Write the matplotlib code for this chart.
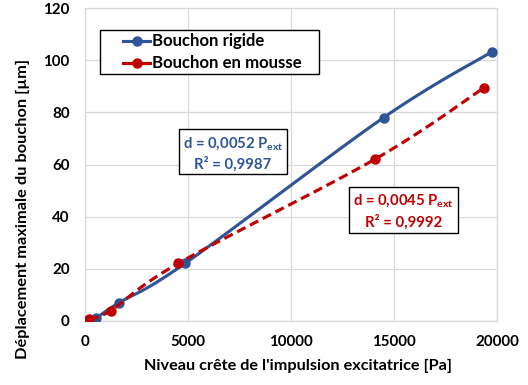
import numpy as np
import matplotlib
matplotlib.use("Agg")
import matplotlib.pyplot as plt
from matplotlib.lines import Line2D
from matplotlib.patches import Rectangle

plt.rcParams['font.family'] = ['Lato', 'DejaVu Sans']
plt.rcParams['mathtext.fontset'] = 'custom'
plt.rcParams['mathtext.rm'] = 'Lato'
plt.rcParams['mathtext.bf'] = 'Lato:bold'

# Measured peak displacement vs excitation level
rigide_x = [530, 1650, 4860, 14500, 19770]
rigide_y = [1.0, 7.0, 22.1, 78.0, 103.3]
mousse_x = [210, 1250, 4530, 14090, 19350]
mousse_y = [0.8, 4.0, 22.1, 62.1, 89.3]

series_names = ['Bouchon rigide', 'Bouchon en mousse']
fit_rigide = ["d = 0,0052 P$_{\\mathbf{ext}}$", "R² = 0,9987"]
fit_mousse = ["d = 0,0045 P$_{\\mathbf{ext}}$", "R² = 0,9992"]
x_ticks = [0, 5000, 10000, 15000, 20000]
y_ticks = [0, 20, 40, 60, 80, 100, 120]

BLUE = '#2F5597'
RED = '#C00000'
LW = 2.25
MS = 6.5
DASH = (0, (3.0, 1.6))


def smooth(xs, ys, n=30):
    """Catmull-Rom smoothing through the measured points."""
    p = np.column_stack([xs, ys]).astype(float)
    p = np.vstack([p[0], p, p[-1]])
    out = []
    for i in range(1, len(p) - 2):
        p0, p1, p2, p3 = p[i - 1], p[i], p[i + 1], p[i + 2]
        t = np.linspace(0, 1, n)[:, None]
        seg = 0.5 * ((2 * p1) + (-p0 + p2) * t
                     + (2 * p0 - 5 * p1 + 4 * p2 - p3) * t ** 2
                     + (-p0 + 3 * p1 - 3 * p2 + p3) * t ** 3)
        out.append(seg)
    s = np.vstack(out)
    return s[:, 0], s[:, 1]


W, H = 528, 385
AX_L, AX_T, AX_W, AX_H = 85, 8, 412, 313

fig = plt.figure(figsize=(W / 100, H / 100), dpi=100)
ax = fig.add_axes([AX_L / W, 1 - (AX_T + AX_H) / H, AX_W / W, AX_H / H])
renderer = fig.canvas.get_renderer()


def afrac(px, py):
    """Pixel position (from top-left of figure) -> axes fraction."""
    return (px - AX_L) / AX_W, 1 - (py - AX_T) / AX_H


def pt_for_width(text, width_px, weight='bold', probe=20.0, rotation=0):
    """Font size giving a rendered text extent of width_px pixels."""
    t = fig.text(0, 0, text, fontsize=probe, fontweight=weight,
                 rotation=rotation)
    bb = t.get_window_extent(renderer)
    t.remove()
    w = bb.height if rotation else bb.width
    return probe * width_px / w


bx, by = smooth(rigide_x, rigide_y)
mx, my = smooth(mousse_x, mousse_y)
ax.plot(bx, by, color=BLUE, lw=LW, zorder=3, solid_capstyle='round')
ax.plot(rigide_x, rigide_y, 'o', color=BLUE, ms=MS, zorder=4)
ax.plot(mx, my, color=RED, lw=LW, ls=DASH, zorder=5)
ax.plot(mousse_x, mousse_y, 'o', color=RED, ms=MS, zorder=6)

ax.set_xlim(0, 20000)
ax.set_ylim(0, 120)
ax.set_xticks(x_ticks)
ax.set_yticks(y_ticks)
ax.grid(True, color='#D9D9D9', lw=0.9)
ax.set_axisbelow(True)
for s in ax.spines.values():
    s.set_color('#D9D9D9')
    s.set_linewidth(0.9)

tick_fs = pt_for_width("20000", 44)
ax.tick_params(length=0, labelsize=tick_fs)
ax.tick_params(axis='y', pad=11)
ax.tick_params(axis='x', pad=10)
for lab in ax.get_xticklabels() + ax.get_yticklabels():
    lab.set_fontweight('bold')

xlab = "Niveau crête de l'impulsion excitatrice [Pa]"
ylab = "Déplacement maximale du bouchon [µm]"
ax.set_xlabel(xlab, fontsize=pt_for_width(xlab, 308), fontweight='bold')
ax.set_ylabel(ylab, fontsize=pt_for_width(ylab, 300, rotation=90),
              fontweight='bold')
ax.xaxis.set_label_coords(*afrac(297.5, 359))
ax.yaxis.set_label_coords(*afrac(30, 209))

# Legend drawn as a framed box with line+marker samples
x0, y0 = afrac(100, 73.5)
x1, y1 = afrac(319, 30)
ax.add_patch(Rectangle((x0, y0), x1 - x0, y1 - y0, transform=ax.transAxes,
                       fc='white', ec='black', lw=1.0, zorder=9))
leg_fs = pt_for_width(series_names[1], 150)
for name, col, py in zip(series_names, [BLUE, RED], [40.7, 62.7]):
    ha, va = afrac(123, py)
    hb, _ = afrac(150, py)
    hm, _ = afrac(136.5, py)
    ax.add_line(Line2D([ha, hb], [va, va], transform=ax.transAxes,
                       color=col, lw=LW, zorder=10))
    ax.add_line(Line2D([hm], [va], transform=ax.transAxes, color=col,
                       marker='o', ms=MS, zorder=10))
    tx, _ = afrac(151.5, py)
    ax.text(tx, va, name, transform=ax.transAxes, fontsize=leg_fs,
            fontweight='bold', ha='left', va='center', zorder=10)

# Fit equations in framed boxes
fit_fs = pt_for_width(fit_rigide[0], 100)
for lines, col, (bl, bt, br, bb), (cx, l1, l2) in [
        (fit_rigide, BLUE, (179, 129, 287, 174), (233, 141.7, 162.7)),
        (fit_mousse, RED, (349, 187, 458, 233), (403.5, 199.3, 221))]:
    x0, y0 = afrac(bl, bb)
    x1, y1 = afrac(br, bt)
    ax.add_patch(Rectangle((x0, y0), x1 - x0, y1 - y0,
                           transform=ax.transAxes, fc='white', ec='black',
                           lw=1.0, zorder=8))
    for txt, py in zip(lines, [l1, l2]):
        tx, ty = afrac(cx, py)
        ax.text(tx, ty, txt, transform=ax.transAxes, color=col,
                fontsize=fit_fs, fontweight='bold', ha='center',
                va='center_baseline', zorder=9)

fig.savefig('out.png', dpi=100)
